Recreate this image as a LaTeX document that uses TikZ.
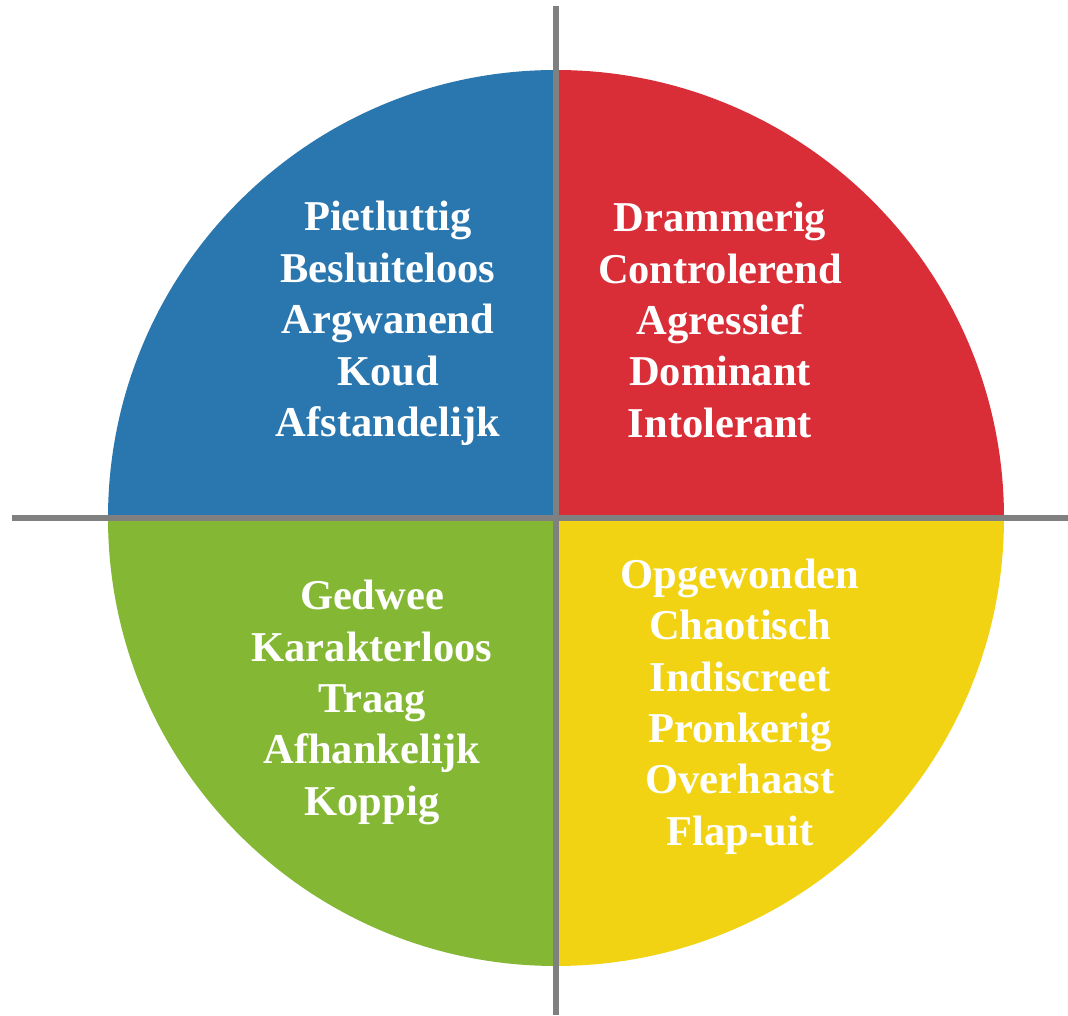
\documentclass[tikz,border=0pt]{standalone}
\usepackage{fontspec}
\setmainfont{Liberation Serif}
\usepackage{tikz}
\usetikzlibrary{positioning}
\definecolor{kwblue}{RGB}{42,119,175}
\definecolor{kwred}{RGB}{217,46,56}
\definecolor{kwgreen}{RGB}{132,184,52}
\definecolor{kwyellow}{RGB}{242,211,20}
\definecolor{kwgray}{RGB}{128,128,128}
\tikzset{trait/.style={text=white, align=center, inner sep=0pt, font=\fontsize{42.5}{51.4}\selectfont\bfseries}}
\tikzset{axis/.style={draw=kwgray, line width=6pt}}

\begin{document}
\begin{tikzpicture}[x=1pt, y=1pt]
        \useasboundingbox (0,0) rectangle (1068,1015);
        \coordinate (c) at (556,497);
        \fill[kwblue]   (c) -- +(-448,0) arc[start angle=180, end angle=90, radius=448] -- cycle;
        \fill[kwred]    (c) -- +(0,448) arc[start angle=90, end angle=0, radius=448] -- cycle;
        \fill[kwgreen]  (c) -- +(-448,0) arc[start angle=180, end angle=270, radius=448] -- cycle;
        \fill[kwyellow] (c) -- +(448,0) arc[start angle=0, end angle=-90, radius=448] -- cycle;

        \coordinate (top) at (556,1009);
        \coordinate (bot) at (556,0);
        \coordinate (lft) at (12,497);
        \coordinate (rgt) at (1068,497);
        \path[axis] (lft) -- (rgt);
        \path[axis] (top) -- (bot);

        \node[trait] (blue)   at (388,691.5) {Pietluttig\\Besluiteloos\\Argwanend\\Koud\\Afstandelijk};
        \node[trait] (red)    at (720,695)   {Drammerig\\Controlerend\\Agressief\\Dominant\\Intolerant};
        \node[trait] (green)  at (372,312.5) {Gedwee\\Karakterloos\\Traag\\Afhankelijk\\Koppig};
        \node[trait] (yellow) at (740,308.5) {Opgewonden\\Chaotisch\\Indiscreet\\Pronkerig\\Overhaast\\Flap-uit};
      \end{tikzpicture}
\end{document}
